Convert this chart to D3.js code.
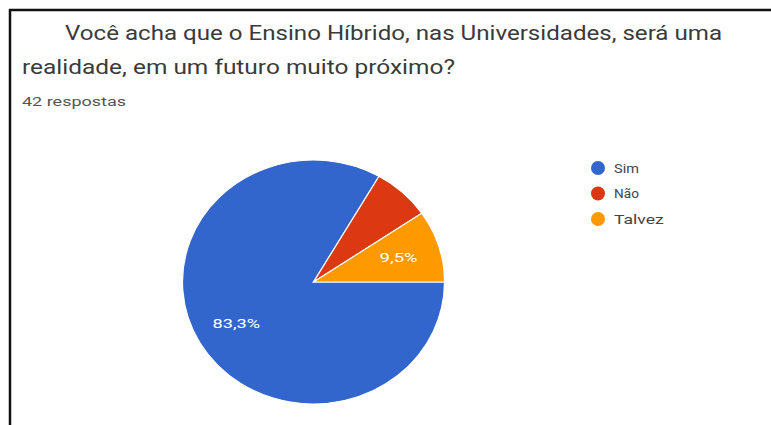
<!DOCTYPE html>
<html>
<head>
<meta charset="utf-8">
<script src="https://cdn.jsdelivr.net/npm/d3@7"></script>
<style>
  html, body { margin: 0; padding: 0; background: #fff; }
  svg { display: block; }
</style>
</head>
<body>
<svg id="chart" width="771" height="425"></svg>
<script>
// Survey answers (42 responses)
const titleLines = [
  "Você acha que o Ensino Híbrido, nas Universidades, será uma",
  "realidade, em um futuro muito próximo?"
];
const subtitle = "42 respostas";
const categories = ["Sim", "Não", "Talvez"];
const counts = [35, 3, 4];
const colors = ["#3366cc", "#dc3912", "#ff9900"];

const svg = d3.select("#chart");
const W = 771, H = 425;
const FONT = "Roboto, sans-serif";

svg.append("rect").attr("width", W).attr("height", H).attr("fill", "#fff");

// frame: top and left edges
svg.append("line").attr("x1", 9).attr("x2", W).attr("y1", 10).attr("y2", 10)
  .attr("stroke", "#111").attr("stroke-width", 2.5);
svg.append("line").attr("x1", 10).attr("x2", 10).attr("y1", 9).attr("y2", H)
  .attr("stroke", "#111").attr("stroke-width", 2.5);

// title (two lines, first one indented)
const titleX = [65, 22];
const titleY = [40, 74];
const titleW = [657, 433];
svg.selectAll("text.title").data(titleLines).join("text")
  .attr("class", "title")
  .attr("x", (d, i) => titleX[i])
  .attr("y", (d, i) => titleY[i])
  .attr("font-family", FONT)
  .attr("font-size", 21)
  .attr("fill", "#3a3a3a")
  .attr("textLength", (d, i) => titleW[i])
  .attr("lengthAdjust", "spacingAndGlyphs")
  .text(d => d);

svg.append("text")
  .attr("x", 22).attr("y", 106)
  .attr("font-family", FONT)
  .attr("font-size", 12.5)
  .attr("fill", "#555")
  .attr("textLength", 104)
  .attr("lengthAdjust", "spacingAndGlyphs")
  .text(subtitle);

// pie (starts at 3 o'clock, clockwise)
const data = categories.map((c, i) => ({ cat: c, value: counts[i], color: colors[i] }));
const total = d3.sum(counts);
const cx = 313.5, cy = 282, r = 131, sy = 122 / 131;

const pie = d3.pie().value(d => d.value).sort(null)
  .startAngle(Math.PI / 2).endAngle(Math.PI / 2 + 2 * Math.PI);
const arcs = pie(data);
const arc = d3.arc().innerRadius(0).outerRadius(r);

const g = svg.append("g").attr("transform", `translate(${cx},${cy}) scale(1,${sy})`);
g.selectAll("path").data(arcs).join("path")
  .attr("d", arc)
  .attr("fill", d => d.data.color)
  .attr("stroke", "#fff")
  .attr("stroke-width", 1.2);

// percentage labels (only for slices large enough)
const fmt = v => d3.format(".1f")(v).replace(".", ",") + "%";
const labelArc = d3.arc().innerRadius(r * 0.68).outerRadius(r * 0.68);
const lg = svg.append("g").attr("transform", `translate(${cx},${cy})`);
lg.selectAll("text").data(arcs.filter(d => d.data.value / total > 0.08)).join("text")
  .attr("x", d => labelArc.centroid(d)[0])
  .attr("y", d => labelArc.centroid(d)[1] * sy)
  .attr("text-anchor", "middle")
  .attr("dy", "0.35em")
  .attr("font-family", FONT)
  .attr("font-size", 13)
  .attr("fill", "#fff")
  .attr("textLength", d => fmt(d.data.value / total * 100).length * 9.5)
  .attr("lengthAdjust", "spacingAndGlyphs")
  .text(d => fmt(d.data.value / total * 100));

// legend
const leg = svg.append("g").attr("transform", "translate(598,168)");
const item = leg.selectAll("g").data(data).join("g")
  .attr("transform", (d, i) => `translate(0,${i * 25.5})`);
item.append("circle").attr("r", 7).attr("fill", d => d.color);
item.append("text").attr("x", 16).attr("dy", "0.35em")
  .attr("font-family", FONT)
  .attr("font-size", 13)
  .attr("fill", "#444")
  .attr("textLength", d => d.cat.length * 8.3)
  .attr("lengthAdjust", "spacingAndGlyphs")
  .text(d => d.cat);
</script>
</body>
</html>
